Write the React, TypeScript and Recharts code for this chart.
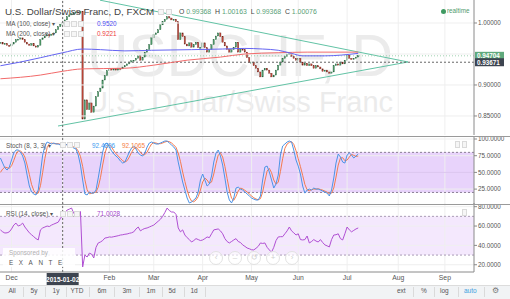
import React from 'react';
import { ComposedChart, Bar, Line, XAxis, YAxis, ReferenceLine, ReferenceArea } from 'recharts';

// ---------- DATA ----------
const firstOpen = 0.967;
const closes = [
  0.969, 0.966, 0.967, 0.964, 0.963, 0.966, 0.969, 0.973, 0.974, 0.976,
  0.973, 0.969, 0.966, 0.964, 0.967, 0.963, 0.961, 0.964, 0.973, 0.976,
  0.979, 0.981, 0.980, 0.982, 0.984, 0.989, 0.994, 0.998, 1.00076, 1.005,
  1.010, 1.013, 1.015, 1.016, 1.018, 1.016, 1.019, 0.845, 0.876, 0.860,
  0.871, 0.856, 0.866, 0.881, 0.889, 0.895, 0.908, 0.915, 0.923, 0.926,
  0.924, 0.927, 0.924, 0.927, 0.926, 0.929, 0.931, 0.934, 0.937, 0.939,
  0.940, 0.943, 0.947, 0.940, 0.945, 0.953, 0.957, 0.965, 0.976, 0.981,
  0.984, 0.989, 0.997, 1.002, 1.006, 1.010, 1.008, 1.005, 1.006, 1.002,
  0.973, 0.984, 0.978, 0.966, 0.963, 0.968, 0.961, 0.965, 0.969, 0.960,
  0.961, 0.968, 0.960, 0.953, 0.957, 0.965, 0.973, 0.979, 0.984, 0.978,
  0.969, 0.963, 0.957, 0.953, 0.957, 0.961, 0.969, 0.953, 0.958, 0.957,
  0.953, 0.944, 0.936, 0.937, 0.931, 0.927, 0.921, 0.913, 0.924, 0.927,
  0.924, 0.919, 0.913, 0.916, 0.924, 0.932, 0.937, 0.943, 0.946, 0.950,
  0.951, 0.946, 0.943, 0.940, 0.943, 0.937, 0.932, 0.935, 0.931, 0.934,
  0.931, 0.927, 0.931, 0.929, 0.926, 0.922, 0.924, 0.921, 0.919, 0.921,
  0.931, 0.934, 0.932, 0.937, 0.934, 0.940, 0.948, 0.943, 0.942, 0.943,
  0.945, 0.94704,
];

const stochK = [
  71.5, 64, 56.6, 53.6, 58, 68.6, 79, 83.5, 83.5, 80.5,
  74.5, 64, 46, 29.6, 20.7, 17.7, 16.2, 23.6, 49, 76,
  89.5, 95.5, 94, 92.5, 94, 92.5, 92.5, 91, 92.49, 92.5,
  91, 89.5, 88, 86.5, 85, 76, 61, 38.6, 17.7, 16.2,
  20.7, 19, 19, 23.6, 41.6, 61, 80.5, 92.5, 94, 88,
  82, 77.5, 74.5, 71.5, 67, 64, 65.5, 73, 80.5, 86.5,
  89.5, 85, 79, 76, 74.5, 79, 88, 94, 95.5, 94,
  92.5, 92.5, 94, 95.5, 97, 97, 94, 91, 88, 83.5,
  65.5, 50.6, 35.6, 23.6, 11.7, 4.2, 5.7, 8.7, 11.7, 20.7,
  38.6, 47.6, 38.6, 29.6, 32.6, 44.6, 65.5, 79, 83.5, 74.5,
  61, 41.6, 20.7, 8.7, 4.2, 11.7, 26.6, 28, 25, 23.6,
  20.7, 17.7, 14.7, 11.7, 10, 8.7, 8.7, 14.7, 38.6, 58,
  59.5, 50.6, 38.6, 26.6, 32.6, 46, 76, 89.5, 92.5, 95.5,
  97, 95.5, 83.5, 68.6, 59.5, 47.6, 29.6, 19, 23.6, 25,
  23.6, 26.6, 25, 25, 23.6, 22, 20.7, 19, 14.7, 23.6,
  41.6, 64, 77.5, 73, 65.5, 64, 76, 79, 76, 71.5,
  74.5, 77.5,
];

const stochD = [
  50, 55, 58, 57, 56, 60, 68, 77, 82, 82,
  79, 73, 61, 47, 32, 23, 18, 19, 30, 50,
  71, 87, 93, 94, 93, 93, 93, 92, 92.1, 92,
  91.5, 90.5, 89.5, 88, 86.5, 82, 74, 59, 39, 24,
  18, 18.5, 19.5, 20.5, 28, 42, 61, 78, 89, 91.5,
  88, 82.5, 78, 74.5, 71, 67.5, 65.5, 67.5, 73, 80,
  85.5, 87, 84.5, 80, 76.5, 76.5, 80.5, 87, 92.5, 94.5,
  94, 93, 93, 94, 95.5, 96.5, 96, 94, 91, 87.5,
  79, 66.5, 50.5, 36.5, 23.5, 13, 7, 6, 8.7, 13.7,
  23.7, 35.6, 41.6, 38.6, 33.6, 35.6, 47.6, 63, 76, 79,
  73, 59, 41, 23.7, 11.2, 8.2, 14.2, 22.1, 26.5, 25.5,
  23.1, 20.7, 17.7, 14.7, 12.1, 10.1, 9.1, 10.7, 20.7, 37.1,
  52, 56, 49.6, 38.6, 32.6, 35.1, 51.5, 70.5, 86, 92.5,
  95, 96, 92, 82.5, 70.5, 58.6, 45.6, 32, 24, 22.5,
  24, 25, 25, 25.5, 24.5, 23.5, 22, 20.5, 18, 19,
  26.6, 43, 61, 71.5, 72, 67.5, 68.5, 73, 77, 75.5,
  74, 74.5,
];

const rsiVals = [
  56, 54, 52.8, 53, 54, 57, 61, 63, 60, 61,
  63, 59, 56, 53, 51, 49, 47, 45.6, 56, 58,
  59, 60, 59.5, 61, 62, 63, 64, 68, 71.0, 74,
  76.5, 77.5, 78.6, 73, 75, 74.5, 75, 17.7, 30, 28,
  32, 31, 27, 38, 42.5, 43.5, 45, 47.6, 48, 48.7,
  48.5, 49, 49.5, 50, 50.7, 51, 51.5, 51.8, 52.5, 53,
  54, 57, 59, 55, 56.5, 57.5, 58, 59, 60, 61,
  63, 65, 67, 70, 74, 78.6, 76, 74.5, 74.5, 72,
  58, 54, 56, 50.7, 48, 46, 43.5, 45, 47, 46,
  45, 45.6, 47, 48.7, 48, 52, 56, 56.5, 57, 55,
  52, 47, 44, 42.5, 44, 45.6, 47, 44, 43, 40.5,
  39, 37.3, 36.5, 35.5, 35.3, 37, 39, 42.5, 42, 42.5,
  38, 35.3, 33, 38, 45, 48.7, 49, 49, 52, 55,
  59, 55, 53, 50.7, 52, 46, 45.6, 46, 49.7, 42.5,
  44, 46, 44.5, 43.5, 46, 43, 40.5, 39.5, 38.4, 46,
  50.7, 51, 52, 47, 45.6, 52, 59, 56, 54, 55.5,
  57, 58,
];

const ma100Idx = [0, 9, 18, 28, 37, 45, 56, 68, 86, 100, 110, 118, 125, 131, 136, 146, 161];
const ma100Val = [0.931, 0.937, 0.944, 0.952, 0.958, 0.957, 0.955, 0.956, 0.957, 0.958, 0.959, 0.958, 0.956, 0.951, 0.947, 0.947, 0.951];
const ma200Idx = [0, 18, 28, 37, 56, 69, 84, 99, 110, 125, 138, 161];
const ma200Val = [0.910, 0.916, 0.9221, 0.926, 0.927, 0.932, 0.940, 0.945, 0.950, 0.952, 0.953, 0.953];

const upperTrend = [{ x: 44.8, y: 1.0368 }, { x: 183.4, y: 0.9371 }];
const lowerTrend = [{ x: 25.9, y: 0.8338 }, { x: 183.4, y: 0.9371 }];

const monthIdx = [5, 28, 49, 69, 91, 113, 134, 156, 179, 200];
const monthLabels = ['Dec', '', 'Feb', 'Mar', 'Apr', 'May', 'Jun', 'Jul', 'Aug', 'Sep'];
const priceGrid = [0.85, 0.9, 0.95, 1.0];
const priceTicks = [0.85, 0.9, 1.0];
const stochTicks = [25, 50, 75, 100];
const rsiTicks = [20, 40, 60, 80];

const crossIdx = 28;
const crossPrice = 0.93671;
const lastPrice = 0.94704;

// ---------- SETUP ----------
const X_DOMAIN: [number, number] = [-0.2, 213.1];
const FONT = "'Liberation Sans', Arial, sans-serif";

const rows = closes.map((c, i) => {
  const o = i === 0 ? firstOpen : closes[i - 1];
  return { i, o, c, body: [Math.min(o, c), Math.max(o, c)], k: stochK[i], d: stochD[i], rsi: rsiVals[i] };
});
const ma100Data = ma100Idx.map((i, n) => ({ i, v: ma100Val[n] }));
const ma200Data = ma200Idx.map((i, n) => ({ i, v: ma200Val[n] }));

const Candle = (props: any) => {
  const { x, y, width, height, payload } = props;
  if (x == null || y == null) return null;
  const up = payload.c >= payload.o;
  const top = height < 0 ? y + height : y;
  const h = Math.max(Math.abs(height || 0), 1.2);
  const cx = x + width / 2;
  const w = 1.3;
  return (
    <rect x={cx - w / 2} y={top} width={w} height={h}
      fill={up ? '#4f9a6a' : '#c0473a'} stroke={up ? '#2a6340' : '#6b2218'} strokeWidth={0.35} />
  );
};

const PriceTag = (props: any) => {
  const { viewBox, bg, text } = props;
  if (!viewBox) return null;
  const x = viewBox.x + viewBox.width;
  const y = viewBox.y;
  return (
    <g>
      <rect x={x + 1} y={y - 4} width={29} height={8} fill={bg} />
      <text x={x + 3} y={y + 2.3} fontSize={6.3} fill="#fff" fontWeight="bold" fontFamily={FONT}>{text}</text>
    </g>
  );
};

const DateTag = (props: any) => {
  const { viewBox, text } = props;
  if (!viewBox) return null;
  const x = viewBox.x;
  const y = viewBox.y + viewBox.height;
  return (
    <g>
      <rect x={x - 16} y={y + 1} width={32} height={12} fill="#3d4450" />
      <text x={x} y={y + 9.5} fontSize={6.5} fill="#fff" textAnchor="middle" fontWeight="bold" fontFamily={FONT}>{text}</text>
    </g>
  );
};

const axisTick = { fontSize: 6.3, fill: '#555', fontFamily: FONT };
const GRID = '#efefef';
const CROSS = '#666';

const monthGrid = (key: string) =>
  monthIdx.map((m) => <ReferenceLine key={key + m} x={m} stroke={GRID} strokeWidth={1} />);

const Box = ({ x, y, w = 6, h = 6 }: any) => (
  <div style={{ position: 'absolute', left: x, top: y, width: w, height: h, border: '1px solid #dadada', boxSizing: 'border-box', background: '#f6f6f6' }} />
);

const txt = (x: number, y: number, s: string, size: number, color: string, extra: any = {}) => (
  <div style={{ position: 'absolute', left: x, top: y, fontSize: size, color, lineHeight: 1, whiteSpace: 'nowrap', ...extra }}>{s}</div>
);

export default function App() {
  const toolbarLeft = [['All', 12], ['5y', 34], ['1y', 56], ['YTD', 77], ['6m', 102], ['3m', 127], ['1m', 151], ['5d', 172], ['1d', 194]] as [string, number][];
  const toolbarSeps = [23, 45, 66, 89, 114, 139, 162, 184, 205, 413, 434, 458, 484];
  const navCircles = [['‹', 216], ['–', 235], ['↺', 254], ['+', 273], ['›', 292]] as [string, number][];
  return (
    <div style={{ position: 'absolute', left: 0, top: 0, width: 510, height: 299, background: '#fff', overflow: 'hidden', fontFamily: FONT }}>
      {/* watermark */}
      <svg style={{ position: 'absolute', left: 0, top: 0 }} width={474} height={135}>
        <text x={87} y={76} fontSize={60} fill="#ebebeb" textLength={306} lengthAdjust="spacingAndGlyphs" fontFamily={FONT}>USDCHF, D</text>
        <text x={87} y={112} fontSize={30} fill="#ebebeb" textLength={306} lengthAdjust="spacingAndGlyphs" fontFamily={FONT}>U.S. Dollar/Swiss Franc</text>
      </svg>

      {/* main price pane */}
      <div style={{ position: 'absolute', left: 0, top: 0 }}>
        <ComposedChart width={510} height={135} data={rows} margin={{ top: 0, right: 0, bottom: 0, left: 0 }}>
          <XAxis type="number" dataKey="i" domain={X_DOMAIN} hide allowDataOverflow />
          <YAxis orientation="right" width={36} type="number" domain={[0.8193, 1.0371]} allowDataOverflow
            ticks={priceTicks} interval={0} tickFormatter={(v: number) => v.toFixed(5)}
            tick={axisTick} tickSize={3} tickMargin={1} axisLine={{ stroke: '#8a8a8a' }} tickLine={{ stroke: '#8a8a8a' }} />
          {monthGrid('a')}
          {priceGrid.map((p) => <ReferenceLine key={'pg' + p} y={p} stroke={GRID} />)}
          <ReferenceLine segment={upperTrend} stroke="#62c3a5" strokeWidth={1} ifOverflow="visible" />
          <ReferenceLine segment={lowerTrend} stroke="#62c3a5" strokeWidth={1} ifOverflow="visible" />
          <ReferenceLine y={lastPrice} stroke="#9fd2b0" strokeDasharray="1 2"
            label={<PriceTag bg="#5fa97c" text={lastPrice.toFixed(5)} />} />
          <ReferenceLine y={crossPrice} stroke={CROSS} strokeDasharray="2 2"
            label={<PriceTag bg="#3d4450" text={crossPrice.toFixed(5)} />} />
          <ReferenceLine x={crossIdx} stroke={CROSS} strokeDasharray="2 2" />
          <Line data={ma200Data} dataKey="v" stroke="#f26a6a" strokeWidth={1} dot={false} activeDot={false} isAnimationActive={false} type="monotone" />
          <Line data={ma100Data} dataKey="v" stroke="#6464f2" strokeWidth={1} dot={false} activeDot={false} isAnimationActive={false} type="monotone" />
          <Bar dataKey="body" shape={Candle} barSize={2} isAnimationActive={false} activeBar={false} />
        </ComposedChart>
      </div>

      {/* stochastic pane */}
      <div style={{ position: 'absolute', left: 0, top: 136 }}>
        <ComposedChart width={510} height={68} data={rows} margin={{ top: 0, right: 0, bottom: 0, left: 0 }}>
          <XAxis type="number" dataKey="i" domain={X_DOMAIN} hide allowDataOverflow />
          <YAxis orientation="right" width={36} type="number" domain={[2.7, 104.5]} allowDataOverflow
            ticks={stochTicks} interval={0} tickFormatter={(v: number) => v.toFixed(4)}
            tick={axisTick} tickSize={3} tickMargin={1} axisLine={{ stroke: '#8a8a8a' }} tickLine={{ stroke: '#8a8a8a' }} />
          <ReferenceArea y1={20} y2={80} fill="#e8d3fb" fillOpacity={1} stroke="none" />
          {monthGrid('b')}
          {stochTicks.map((p) => <ReferenceLine key={'sg' + p} y={p} stroke={p === 50 ? '#dcc6ef' : GRID} />)}
          <ReferenceLine y={80} stroke="#8a7f95" strokeDasharray="2 2" />
          <ReferenceLine y={20} stroke="#8a7f95" strokeDasharray="2 2" />
          <ReferenceLine x={crossIdx} stroke={CROSS} strokeDasharray="2 2" />
          <Line dataKey="d" stroke="#f47a4f" strokeWidth={1} dot={false} activeDot={false} isAnimationActive={false} />
          <Line dataKey="k" stroke="#4c93e6" strokeWidth={1} dot={false} activeDot={false} isAnimationActive={false} />
        </ComposedChart>
      </div>

      {/* RSI pane with time axis */}
      <div style={{ position: 'absolute', left: 0, top: 203 }}>
        <ComposedChart width={510} height={82} data={rows} margin={{ top: 0, right: 0, bottom: 0, left: 0 }}>
          <XAxis type="number" dataKey="i" domain={X_DOMAIN} allowDataOverflow ticks={monthIdx} interval={0}
            tickFormatter={(v: number) => monthLabels[monthIdx.indexOf(v)] || ''}
            height={13} axisLine={{ stroke: '#8a8a8a' }} tickLine={false} tickSize={0} tickMargin={3}
            tick={{ fontSize: 6.8, fill: '#555', fontFamily: FONT }} />
          <YAxis orientation="right" width={36} type="number" domain={[12.5, 83.8]} allowDataOverflow
            ticks={rsiTicks} interval={0} tickFormatter={(v: number) => v.toFixed(4)}
            tick={axisTick} tickSize={3} tickMargin={1} axisLine={{ stroke: '#8a8a8a' }} tickLine={{ stroke: '#8a8a8a' }} />
          <ReferenceArea y1={30} y2={70} fill="#f4e8fd" fillOpacity={1} stroke="none" />
          {monthGrid('c')}
          {rsiTicks.map((p) => <ReferenceLine key={'rg' + p} y={p} stroke={GRID} />)}
          <ReferenceLine y={70} stroke="#a99bb5" strokeDasharray="2 2" />
          <ReferenceLine y={30} stroke="#a99bb5" strokeDasharray="2 2" />
          <ReferenceLine x={crossIdx} stroke={CROSS} strokeDasharray="2 2" label={<DateTag text="2015-01-02" />} />
          <Line dataKey="rsi" stroke="#b04fd3" strokeWidth={1} dot={false} activeDot={false} isAnimationActive={false} />
        </ComposedChart>
      </div>

      {/* pane separators */}
      <div style={{ position: 'absolute', left: 0, top: 135.5, width: 510, height: 1.5, background: '#9a9a9a' }} />
      <div style={{ position: 'absolute', left: 0, top: 204, width: 510, height: 1.2, background: '#9a9a9a' }} />

      {/* header */}
      {txt(5, 7, 'U.S. Dollar/Swiss Franc, D, FXCM', 9.8, '#444')}
      <Box x={158} y={9} /><Box x={166} y={9} />
      <div style={{ position: 'absolute', left: 179, top: 9, fontSize: 6.9, lineHeight: 1, whiteSpace: 'nowrap', color: '#444' }}>
        O <span style={{ color: '#5a9f78' }}>0.99368</span>&nbsp; H <span style={{ color: '#5a9f78' }}>1.00163</span>&nbsp; L <span style={{ color: '#5a9f78' }}>0.99368</span>&nbsp; C <span style={{ color: '#5a9f78' }}>1.00076</span>
      </div>
      <div style={{ position: 'absolute', left: 440.5, top: 8.5, width: 5, height: 5, borderRadius: 3, background: '#3f9a62' }} />
      {txt(447, 8, 'realtime', 6.3, '#4f9a6c')}

      {/* MA legends */}
      {txt(6, 21, 'MA (100, close) ▾', 6.4, '#555')}
      <Box x={64} y={21} /><Box x={71} y={21} /><Box x={78} y={21} />
      {txt(97, 21, '0.9520', 6.4, '#4a4af0')}
      {txt(6, 31, 'MA (200, close) ▾', 6.4, '#555')}
      <Box x={64} y={31} /><Box x={71} y={31} /><Box x={78} y={31} />
      {txt(97, 31, '0.9221', 6.4, '#ee4040')}

      {/* stoch legend */}
      {txt(6, 142.5, 'Stoch (8, 3, 3) ▾', 6.4, '#555')}
      <Box x={60} y={142} /><Box x={67} y={142} /><Box x={74} y={142} />
      {txt(92, 142.5, '92.4896', 6.4, '#3d9bf0')}
      {txt(122, 142.5, '92.1065', 6.4, '#f57d3f')}
      <Box x={455} y={141} w={5} h={7} /><Box x={462} y={141} w={5} h={7} />

      {/* RSI legend */}
      {txt(6, 211, 'RSI (14, close) ▾', 6.4, '#555')}
      <Box x={60} y={211} /><Box x={67} y={211} /><Box x={74} y={211} />
      {txt(97, 211, '71.0028', 6.4, '#a445cc')}
      <Box x={462} y={209} w={5} h={7} />

      {/* sponsored */}
      <div style={{ position: 'absolute', left: 3, top: 248, width: 72, height: 19, background: 'rgba(255,255,255,0.85)' }} />
      {txt(9, 250, 'Sponsored by', 6.3, '#b0b0b0')}
      {txt(9, 259.5, 'EXANTE', 6.3, '#555', { letterSpacing: 5.6 })}

      {/* nav circles */}
      {navCircles.map(([s, cx]) => (
        <div key={s} style={{ position: 'absolute', left: cx - 7, top: 251, width: 14, height: 14, borderRadius: 7, border: '1px solid #e2e2e2', boxSizing: 'border-box', background: 'rgba(255,255,255,0.6)', color: '#cfcfcf', fontSize: 8, lineHeight: '12px', textAlign: 'center' }}>{s}</div>
      ))}

      {/* toolbar */}
      <div style={{ position: 'absolute', left: 0, top: 285, width: 510, height: 14, background: '#f1f3f5', borderTop: '1px solid #dcdcdc', boxSizing: 'border-box' }} />
      {toolbarSeps.map((x) => <div key={'s' + x} style={{ position: 'absolute', left: x, top: 287, width: 1, height: 10, background: '#dadada' }} />)}
      {toolbarLeft.map(([s, x]) => (
        <div key={s} style={{ position: 'absolute', left: x - 12, width: 24, top: 287.5, fontSize: 6.5, color: '#555', textAlign: 'center', lineHeight: 1 }}>{s}</div>
      ))}
      {txt(397, 287.5, 'ext', 6.5, '#555')}
      {txt(421, 287.5, '%', 6.5, '#555')}
      {txt(440, 287.5, 'log', 6.5, '#555')}
      {txt(464, 287.5, 'auto', 6.5, '#3ea2e0')}
      {txt(492, 286.5, '⚙', 8, '#777')}
    </div>
  );
}
